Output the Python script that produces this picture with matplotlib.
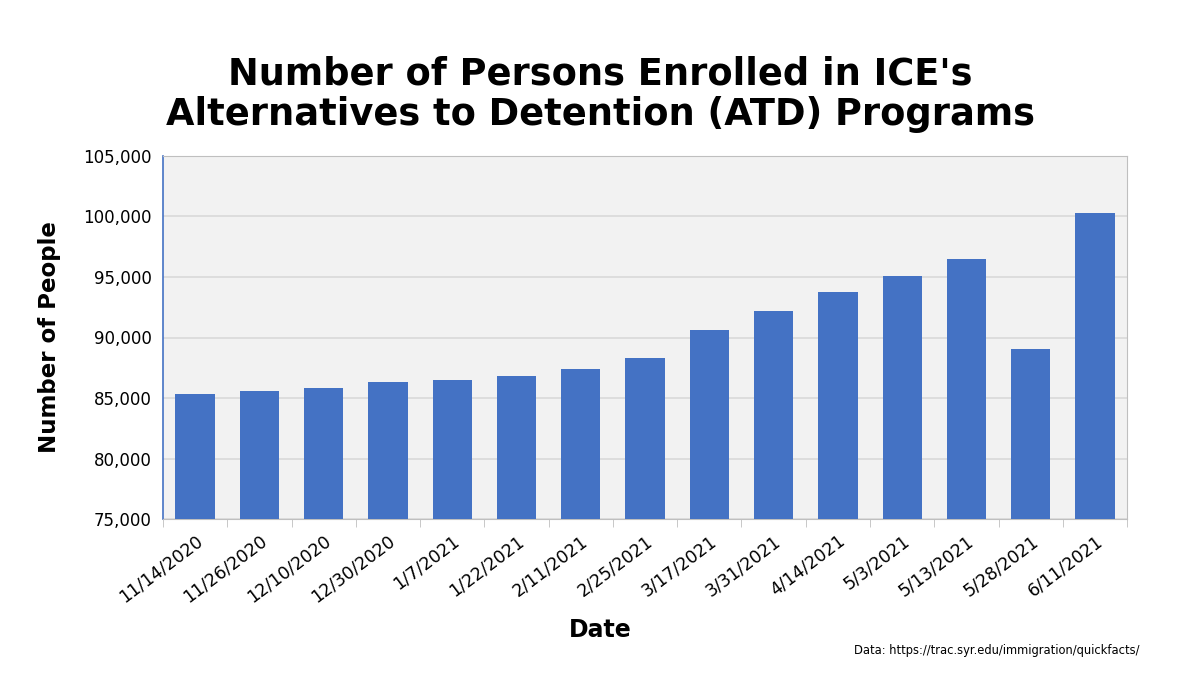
import matplotlib.pyplot as plt
import numpy as np
from matplotlib.ticker import FuncFormatter, MultipleLocator

dates = ['11/14/2020', '11/26/2020', '12/10/2020', '12/30/2020', '1/7/2021',
         '1/22/2021', '2/11/2021', '2/25/2021', '3/17/2021', '3/31/2021',
         '4/14/2021', '5/3/2021', '5/13/2021', '5/28/2021', '6/11/2021']
enrolled = [85340, 85590, 85810, 86360, 86520, 86820, 87370, 88280,
            90620, 92160, 93720, 95100, 96500, 89080, 100300]

bar_color = '#4472C4'

fig = plt.figure(figsize=(12, 6.75), dpi=100)
ax = fig.add_axes([0.1358, 0.2307, 0.8035, 0.5386])
ax.set_facecolor('#F2F2F2')

x = np.arange(len(dates))
ax.bar(x, enrolled, width=0.61, color=bar_color, zorder=3)

ax.set_xlim(-0.5, len(dates) - 0.5)
ax.set_ylim(75000, 105000)
ax.yaxis.set_major_locator(MultipleLocator(5000))
ax.yaxis.set_major_formatter(FuncFormatter(lambda v, p: f'{int(v):,}'))
ax.grid(axis='y', color='#D9D9D9', linewidth=1.2, zorder=0)

ax.set_xticks(x)
ax.set_xticklabels(dates, rotation=37, ha='right', rotation_mode='anchor', fontsize=12.5)
ax.set_xticks(np.arange(-0.5, len(dates)), minor=True)
ax.tick_params(axis='x', which='major', length=0, pad=9)
ax.tick_params(axis='x', which='minor', length=6, color='#BFBFBF')
ax.tick_params(axis='y', length=0, labelsize=12, pad=8)

ax.spines['left'].set_color(bar_color)
ax.spines['left'].set_linewidth(1.2)
for s in ['top', 'right', 'bottom']:
    ax.spines[s].set_color('#BFBFBF')

ax.set_ylabel('Number of People', fontsize=16.5, fontweight='bold', labelpad=16)
fig.text(0.5, 0.066, 'Date', ha='center', va='center', fontsize=17, fontweight='bold')

fig.text(0.5, 0.86, "Number of Persons Enrolled in ICE's\nAlternatives to Detention (ATD) Programs",
         ha='center', va='center', fontsize=26.5, fontweight='bold', linespacing=1.12)

fig.text(0.95, 0.037, 'Data: https://trac.syr.edu/immigration/quickfacts/',
         ha='right', va='center', fontsize=8.3)

fig.savefig('out.png', dpi=100)
